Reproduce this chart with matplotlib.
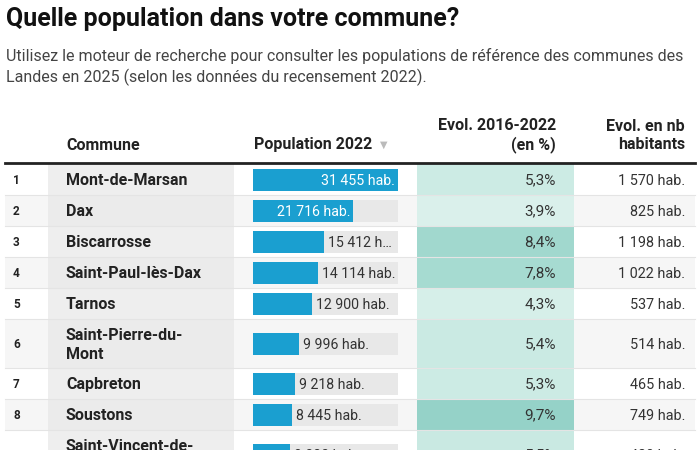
import matplotlib
matplotlib.use("Agg")
import matplotlib.pyplot as plt
from matplotlib.colors import LinearSegmentedColormap, Normalize

plt.rcParams['font.family'] = ['Roboto', 'DejaVu Sans']

# ---- data ----
ranks = [1, 2, 3, 4, 5, 6, 7, 8, 9]
communes = ["Mont-de-Marsan", "Dax", "Biscarrosse", "Saint-Paul-lès-Dax", "Tarnos",
            "Saint-Pierre-du-\nMont", "Capbreton", "Soustons", "Saint-Vincent-de-\nTyrosse"]
population = [31455, 21716, 15412, 14114, 12900, 9996, 9218, 8445, 8030]
evol_pct = [5.3, 3.9, 8.4, 7.8, 4.3, 5.4, 5.3, 9.7, 5.5]
evol_nb = [1570, 825, 1198, 1022, 537, 514, 465, 749, 420]

title = "Quelle population dans votre commune?"
subtitle = ("Utilisez le moteur de recherche pour consulter les populations de référence des communes des\n"
            "Landes en 2025 (selon les données du recensement 2022).")
headers = ["Commune", "Population 2022", "Evol. 2016-2022\n(en %)", "Evol. en nb\nhabitants"]

def fmt_int(v):
    return f"{v:,}".replace(",", " ")

# ---- layout (pixels) ----
W, H = 700, 450
fig = plt.figure(figsize=(7, 4.5), dpi=100)

# background layer
axb = fig.add_axes([0, 0, 1, 1])
axb.set_xlim(0, W)
axb.set_ylim(H, 0)
axb.axis('off')
axb.set_zorder(0)

# bar layer
BAR_X0, BAR_W = 253, 145
axp = fig.add_axes([BAR_X0 / W, 0, BAR_W / W, 1])
axp.set_xlim(0, max(population))
axp.set_ylim(H, 0)
axp.axis('off')
axp.set_zorder(1)

# text layer
ax = fig.add_axes([0, 0, 1, 1])
ax.set_xlim(0, W)
ax.set_ylim(H, 0)
ax.axis('off')
ax.set_zorder(2)

DARK = "#222222"
TXT = "#333333"
HF = 11.5   # header / name font size
VF = 10.4   # value font size
DY = 1.2    # small downward text offset within rows

ax.text(6, 19, title, fontsize=18, fontweight='bold', color="#111111", va='center', ha='left')
ax.text(6, 67, subtitle, fontsize=11.5, color="#444444", va='center', ha='left', linespacing=1.35)

# headers
ax.text(66, 145, headers[0], fontsize=HF, fontweight='bold', color=DARK, va='center')
ax.text(254, 145, headers[1], fontsize=HF, fontweight='bold', color=DARK, va='center')
ax.text(380, 145, "▼", fontsize=7, color="#bbbbbb", va='center', family=['DejaVu Sans'])
ax.text(556, 135.5, headers[2], fontsize=HF, fontweight='bold', color=DARK, va='center', ha='right',
        linespacing=1.2)
ax.text(685, 135.5, headers[3], fontsize=HF, fontweight='bold', color=DARK, va='center', ha='right',
        linespacing=1.2)

# rows
top = 164
single, double = 31, 49
cmap = LinearSegmentedColormap.from_list("heat", ["#e2f4ef", "#cdebe4", "#a9ddd3", "#95d2c8"])
norm = Normalize(vmin=3.0, vmax=9.7)

renderer = fig.canvas.get_renderer()
y = top
centers = []
for i in range(len(communes)):
    h = double if "\n" in communes[i] else single
    c = y + h / 2
    centers.append(c)
    if i % 2 == 1:
        axb.add_patch(plt.Rectangle((5, y), 690, h, color="#f6f6f6", zorder=0, lw=0))
    axb.add_patch(plt.Rectangle((48, y), 186, h, color="#eeeeee" if i % 2 == 0 else "#ebebeb", zorder=0.5, lw=0))
    axb.add_patch(plt.Rectangle((417, y), 157, h, color=cmap(norm(evol_pct[i])), zorder=0.5, lw=0))
    axb.plot([5, 695], [y + h, y + h], color="#e4e4e4", lw=0.8, zorder=1)
    ax.text(13, c + DY, str(ranks[i]), fontsize=8.5, fontweight='bold', color=DARK, va='center', ha='left')
    ax.text(66, c + DY, communes[i], fontsize=HF, fontweight='bold', color=DARK, va='center', ha='left',
            linespacing=1.32)
    ax.text(556, c + DY, f"{evol_pct[i]:.1f}%".replace(".", ","), fontsize=VF + 0.6, color=TXT,
            va='center', ha='right')
    ax.text(685, c + DY + 0.5, f"{fmt_int(evol_nb[i])} hab.", fontsize=VF, color=TXT, va='center', ha='right')
    y += h

ax.plot([5, 695], [top - 1, top - 1], color="#222222", lw=2, zorder=3)

# bars (through the bar axes' own scale)
bh = 22
axp.barh(centers, [max(population)] * len(population), height=bh, color="#e8e8e8", zorder=1)
axp.barh(centers, population, height=bh, color="#1a9fd0", zorder=2)

px_per_unit = BAR_W / max(population)
PF = 10.2
for i, v in enumerate(population):
    label = f"{fmt_int(v)} hab."
    t = ax.text(0, 0, label, fontsize=PF)
    tw = t.get_window_extent(renderer).width
    t.remove()
    bar_end = BAR_X0 + v * px_per_unit
    if tw + 8 <= v * px_per_unit:
        ax.text(bar_end - 3, centers[i] + DY, label, fontsize=PF, color="white", va='center', ha='right', zorder=4)
    else:
        avail = BAR_X0 + BAR_W - (bar_end + 4) + 1
        s = label
        while True:
            t = ax.text(0, 0, s, fontsize=PF)
            w = t.get_window_extent(renderer).width
            t.remove()
            if w <= avail or len(s) <= 2:
                break
            s = label[:len(s.rstrip("…")) - 1] + "…"
        ax.text(bar_end + 4, centers[i] + DY + 0.5, s, fontsize=PF, color=TXT, va='center', ha='left', zorder=4)

fig.savefig("out.png", dpi=100)
